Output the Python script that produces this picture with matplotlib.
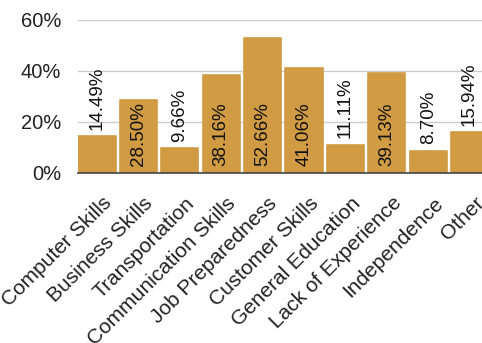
import matplotlib
matplotlib.use("Agg")
import matplotlib.pyplot as plt
import matplotlib.transforms as mtransforms
from matplotlib.ticker import FuncFormatter

categories = ["Computer Skills", "Business Skills", "Transportation",
              "Communication Skills", "Job Preparedness", "Customer Skills",
              "General Education", "Lack of Experience", "Independence", "Other"]
values = [14.49, 28.50, 9.66, 38.16, 52.66, 41.06, 11.11, 39.13, 8.70, 15.94]
y_ticks = [0, 20, 40, 60]

plt.rcParams["font.family"] = ["Liberation Sans", "DejaVu Sans"]
FS = 13.5
BAR = "#D09B43"

W, H = 482, 343
fig = plt.figure(figsize=(W / 100, H / 100), dpi=100)
ax = fig.add_axes([78 / W, 170 / H, (W - 78) / W, (173 - 19.5) / H])

x = list(range(len(categories)))
ax.bar(x, values, width=0.9, color=BAR, edgecolor=BAR, linewidth=1.2,
       joinstyle="round", zorder=3)

ax.set_xlim(-0.46, 9.30)
ax.set_ylim(0, 60)
ax.set_yticks(y_ticks)
ax.yaxis.set_major_formatter(FuncFormatter(lambda v, _: f"{v:.0f}%"))
ax.tick_params(axis="y", length=0, pad=12, labelsize=14.5, labelcolor="#222222")
ax.grid(axis="y", color="#cccccc", linewidth=1, zorder=0)
ax.set_axisbelow(True)
for s in ("top", "right", "left"):
    ax.spines[s].set_visible(False)
ax.spines["bottom"].set_color("#444444")
ax.spines["bottom"].set_linewidth(1.2)
ax.spines["bottom"].set_zorder(4)

ax.set_xticks(x)
ax.set_xticklabels(categories, rotation=45, ha="right", va="top",
                   rotation_mode="anchor", fontsize=15, color="#222222")
ax.tick_params(axis="x", length=0, pad=9)
shift = mtransforms.ScaledTranslation(5 / 100, -8 / 100, fig.dpi_scale_trans)
for lbl in ax.get_xticklabels():
    lbl.set_transform(lbl.get_transform() + shift)

for xi, v in zip(x, values):
    label = f"{v:.2f}%"
    if v > 25:
        ax.annotate(label, (xi, 0), xytext=(0, 4.8), textcoords="offset points",
                    rotation=90, ha="center", va="bottom", fontsize=FS,
                    color="#111111", zorder=5)
    else:
        ax.annotate(label, (xi, v), xytext=(0, 4.5), textcoords="offset points",
                    rotation=90, ha="center", va="bottom", fontsize=FS,
                    color="#111111", zorder=5)

fig.savefig("out.png", dpi=100)
